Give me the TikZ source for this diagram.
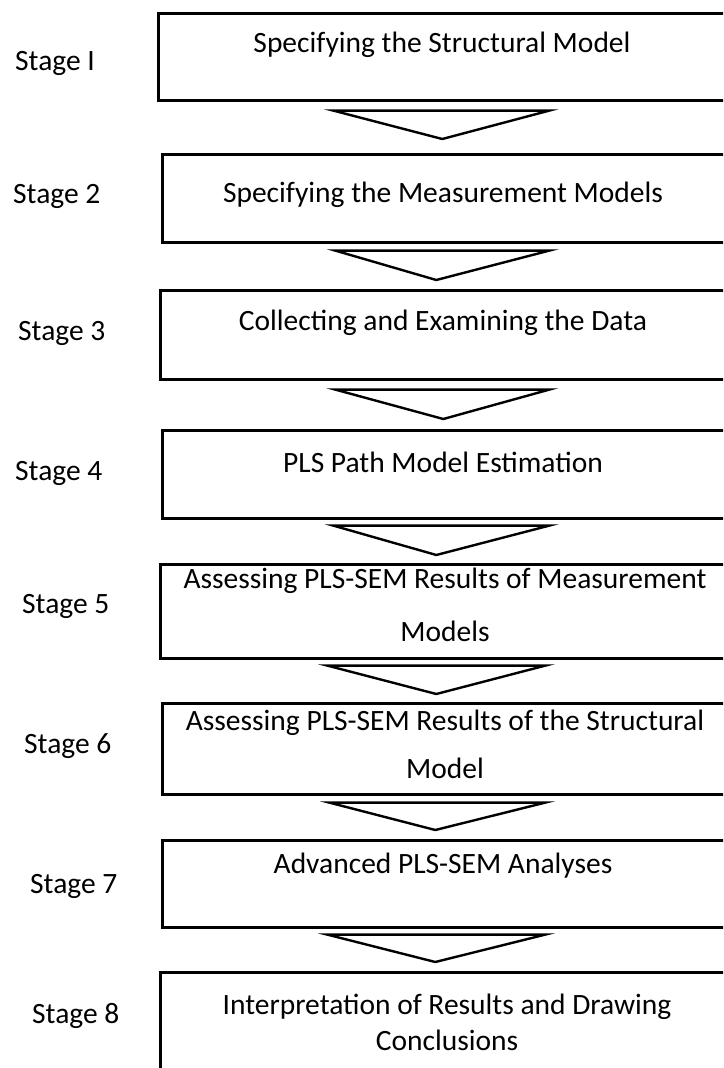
\documentclass[tikz,border=0pt]{standalone}
\usepackage{fontspec}
\setmainfont{Carlito}
\begin{document}
\begin{tikzpicture}[x=1pt,y=-1pt,
    stagebox/.style={draw, line width=2.6pt, rectangle, anchor=north west,
      minimum width=570pt, inner sep=0pt},
    boxtext/.style={font=\fontsize{29.5}{36}\selectfont, align=center, inner sep=0pt},
    stagelabel/.style={font=\fontsize{29.5}{35}\selectfont, anchor=west, inner sep=0pt},
    flowtip/.style={draw, line width=2.4pt, line join=miter}]
  \useasboundingbox (0,0) rectangle (723,1068);
  \fill[white] (0,0) rectangle (723,1068);
  \clip (0,0) rectangle (723,1068);

  % boxes
  \node[stagebox, minimum height=87pt] (b1) at (157, 12) {};
  \node[stagebox, minimum height=88pt] (b2) at (161,153) {};
  \node[stagebox, minimum height=89pt] (b3) at (159,289) {};
  \node[stagebox, minimum height=88pt] (b4) at (161,429) {};
  \node[stagebox, minimum height=94pt] (b5) at (159,563) {};
  \node[stagebox, minimum height=91pt] (b6) at (161,702) {};
  \node[stagebox, minimum height=87pt] (b7) at (161,839) {};
  \node[stagebox, minimum height=120pt] (b8) at (159,971) {};

  % box texts
  \node[boxtext] (t1) at (442,  45) {Specifying the Structural Model};
  \node[boxtext] (t2) at (443, 195) {Specifying the Measurement Models};
  \node[boxtext] (t3) at (443, 323) {Collecting and Examining the Data};
  \node[boxtext] (t4) at (443, 462) {PLS Path Model Estimation};
  \node[boxtext] (t5) at (445, 605) {Assessing PLS-SEM Results of Measurement\\[17pt]Models};
  \node[boxtext] (t6) at (445, 744) {Assessing PLS-SEM Results of the Structural\\[12pt]Model};
  \node[boxtext] (t7) at (443, 866) {Advanced PLS-SEM Analyses};
  \node[boxtext] (t8) at (447,1022) {Interpretation of Results and Drawing\\Conclusions};

  % stage labels
  \node[stagelabel] (s1) at (15,  63) {Stage I};
  \node[stagelabel] (s2) at (13, 196) {Stage 2};
  \node[stagelabel] (s3) at (18, 333) {Stage 3};
  \node[stagelabel] (s4) at (15, 473) {Stage 4};
  \node[stagelabel] (s5) at (22, 606) {Stage 5};
  \node[stagelabel] (s6) at (24, 746) {Stage 6};
  \node[stagelabel] (s7) at (30, 886) {Stage 7};
  \node[stagelabel] (s8) at (32,1016) {Stage 8};

  % arrows between stages
  \draw[flowtip] ([xshift=-110pt,yshift=-9pt]b1.south) -- ([xshift=106pt,yshift=-9pt]b1.south) -- ([xshift=-5pt,yshift=14pt]b2.north) -- cycle;
  \draw[flowtip] ([xshift=-112pt,yshift=-7pt]b2.south) -- ([xshift=102pt,yshift=-7pt]b2.south) -- ([xshift=-9pt,yshift=9pt]b3.north) -- cycle;
  \draw[flowtip] ([xshift=-110pt,yshift=-9pt]b3.south) -- ([xshift=104pt,yshift=-9pt]b3.south) -- ([xshift=-4pt,yshift=10pt]b4.north) -- cycle;
  \draw[flowtip] ([xshift=-114pt,yshift=-6pt]b4.south) -- ([xshift=102pt,yshift=-6pt]b4.south) -- ([xshift=-9pt,yshift=8pt]b5.north) -- cycle;
  \draw[flowtip] ([xshift=-118pt,yshift=-6pt]b5.south) -- ([xshift=100pt,yshift=-6pt]b5.south) -- ([xshift=-11pt,yshift=8pt]b6.north) -- cycle;
  \draw[flowtip] ([xshift=-118pt,yshift=-7pt]b6.south) -- ([xshift=98pt,yshift=-7pt]b6.south) -- ([xshift=-12pt,yshift=9pt]b7.north) -- cycle;
  \draw[flowtip] ([xshift=-120pt,yshift=-6pt]b7.south) -- ([xshift=98pt,yshift=-6pt]b7.south) -- ([xshift=-10pt,yshift=9pt]b8.north) -- cycle;
\end{tikzpicture}
\end{document}
